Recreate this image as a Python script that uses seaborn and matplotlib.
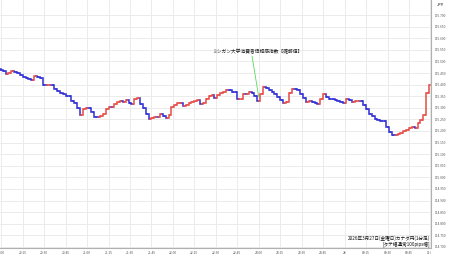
import numpy as np
import pandas as pd
import matplotlib
matplotlib.use("Agg")
import matplotlib.pyplot as plt
import seaborn as sns
from matplotlib.transforms import Bbox, TransformedBbox

# ---- data (2-minute closes, minutes after 20:00) ----
candle_step_min = 2
closes = [
    115.464, 115.459, 115.445, 115.450, 115.457, 115.456, 115.450, 115.443, 115.431, 115.428,
    115.423, 115.422, 115.436, 115.434, 115.427, 115.400, 115.397, 115.400, 115.397, 115.383,
    115.374, 115.363, 115.360, 115.353, 115.349, 115.331, 115.321, 115.299, 115.271, 115.294,
    115.299, 115.297, 115.282, 115.260, 115.259, 115.263, 115.273, 115.295, 115.305, 115.303,
    115.317, 115.327, 115.329, 115.327, 115.335, 115.319, 115.318, 115.340, 115.342, 115.318,
    115.298, 115.272, 115.252, 115.256, 115.262, 115.259, 115.275, 115.266, 115.256, 115.269,
    115.302, 115.312, 115.320, 115.322, 115.306, 115.311, 115.320, 115.327, 115.331, 115.333,
    115.315, 115.320, 115.340, 115.352, 115.355, 115.344, 115.354, 115.364, 115.368, 115.376,
    115.375, 115.370, 115.369, 115.336, 115.337, 115.361, 115.359, 115.366, 115.362, 115.351,
    115.329, 115.359, 115.388, 115.384, 115.376, 115.368, 115.359, 115.346, 115.332, 115.321,
    115.323, 115.364, 115.380, 115.379, 115.376, 115.360, 115.341, 115.326, 115.329, 115.323,
    115.319, 115.316, 115.337, 115.361, 115.348, 115.339, 115.337, 115.335, 115.330, 115.326,
    115.320, 115.336, 115.334, 115.325, 115.329, 115.331, 115.328, 115.313, 115.294, 115.275,
    115.266, 115.253, 115.246, 115.244, 115.241, 115.219, 115.194, 115.183, 115.181, 115.186,
    115.192, 115.198, 115.203, 115.212, 115.219, 115.215, 115.235, 115.246, 115.269, 115.365,
    115.398,
]
first_open = 115.466

xtick_minutes = [0, 15, 30, 45, 60, 75, 90, 105, 120, 135, 150, 165, 180, 195,
                 210, 225, 240, 255, 270, 285, 300]
xtick_labels = ["20:00", "20:15", "20:30", "20:45", "21:00", "21:15", "21:30", "21:45",
                "22:00", "22:15", "22:30", "22:45", "23:00", "23:15", "23:30", "23:45",
                "28", "00:15", "00:30", "00:45", "01:00"]
ytick_values = [114.70, 114.75, 114.80, 114.85, 114.90, 114.95, 115.00, 115.05, 115.10,
                115.15, 115.20, 115.25, 115.30, 115.35, 115.40, 115.45, 115.50, 115.55,
                115.60, 115.65, 115.70]
ytick_labels = ["114.700", "114.750", "114.800", "114.850", "114.900", "114.950", "115.000",
                "115.050", "115.100", "115.150", "115.200", "115.250", "115.300", "115.350",
                "115.400", "115.450", "115.500", "115.550", "115.600", "115.650", "115.700"]

event_minute = 180
event_label = "ミシガン大学消費者信頼感指数【確報値】"
event_label_pos = (178.8, 115.541)
event_line_start = (175.3, 115.523)
info_text = "2026年3月27日(金曜日)カナダ円(1分足)\n[タテ幅通常100pips幅]"
currency = "JPY"

UP = "#e8504a"
DOWN = "#3434d6"

# ---- build table: each candle runs from previous close to its close, coloured by direction ----
times = [k * candle_step_min for k in range(len(closes))]
opens = [first_open] + closes[:-1]
open_times = [times[0] - candle_step_min / 2] + times[:-1]
rows = []
for k, (o, c) in enumerate(zip(opens, closes)):
    d = "up" if c >= o else "down"
    rows.append({"seg": k, "t": open_times[k], "price": o, "dir": d})
    rows.append({"seg": k, "t": times[k], "price": c, "dir": d})
df = pd.DataFrame(rows)

sns.set_theme(style="white")
plt.rcParams["font.family"] = ["Noto Sans CJK JP", "DejaVu Sans"]

fig = plt.figure(figsize=(4.5, 2.58), dpi=100)
fig.patch.set_facecolor("white")
ax = fig.add_axes([0, 10 / 258, 431 / 450, 248 / 258])
ax.set_facecolor("white")

sns.lineplot(data=df, x="t", y="price", units="seg", hue="dir", estimator=None,
             palette={"up": UP, "down": DOWN}, linewidth=1.15, legend=False,
             sort=False, ax=ax, drawstyle="steps-mid", solid_capstyle="projecting",
             solid_joinstyle="miter", zorder=3)

ax.set_xlim(-0.85, 300.4)
ax.set_ylim(114.6955, 115.7648)

ax.set_xticks(xtick_minutes)
ax.set_xticklabels(xtick_labels)
ax.set_yticks(ytick_values)
ax.set_yticklabels(ytick_labels)
ax.yaxis.tick_right()
ax.tick_params(axis="both", length=0, labelsize=2.3, colors="#555555")
ax.tick_params(axis="x", pad=2.2)
ax.tick_params(axis="y", pad=2.6)
ax.set_xlabel("")
ax.set_ylabel("")

ax.grid(True, color="#ebebeb", linewidth=0.7, zorder=0)
ax.set_axisbelow(True)
for side in ("top", "left"):
    ax.spines[side].set_visible(False)
for side in ("right", "bottom"):
    ax.spines[side].set_visible(True)
    ax.spines[side].set_color("#b0b0b0")
    ax.spines[side].set_linewidth(0.8)

# clip x tick labels to the plot width
clip = TransformedBbox(Bbox([[0, -1], [1, 1]]), ax.transAxes)
for lab in ax.get_xticklabels():
    lab.set_clip_on(True)
    lab.set_clip_box(clip)

# event annotation
ev_idx = event_minute // candle_step_min
ax.annotate("", xy=(event_minute, closes[ev_idx] + 0.018), xytext=event_line_start,
            textcoords="data",
            arrowprops=dict(arrowstyle="-", color="#55dd55", linewidth=0.6,
                            shrinkA=0, shrinkB=0), zorder=4)
ax.text(event_label_pos[0], event_label_pos[1], event_label, ha="center", va="center",
        fontsize=3.4, color="#222222", zorder=5)

ax.text(0.998, 0.006, info_text, transform=ax.transAxes, ha="right", va="bottom",
        fontsize=3.3, color="#111111", linespacing=1.05, zorder=5)

fig.text(440 / 450, 1 - 5 / 258, currency, ha="center", va="center",
         fontsize=2.8, fontweight="bold", color="#444444")

fig.savefig("out.png", dpi=100, facecolor="white")
